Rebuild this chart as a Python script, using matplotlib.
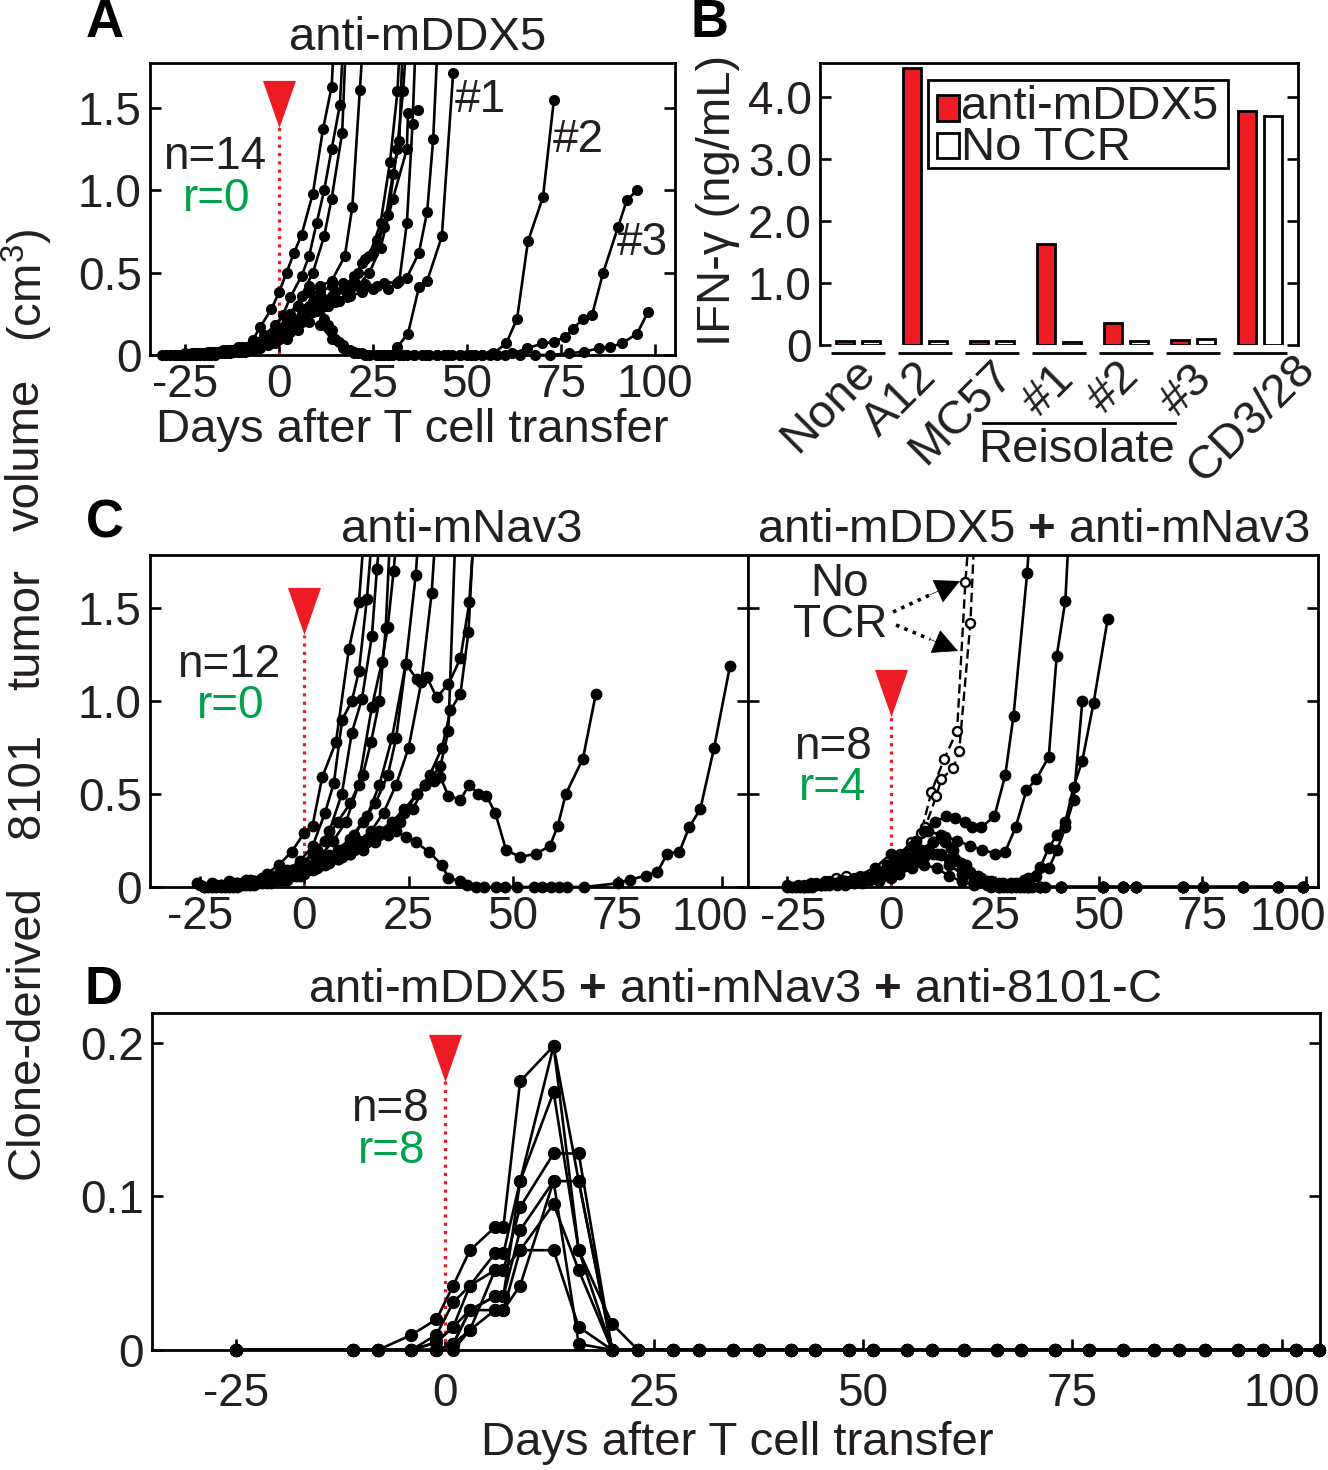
import numpy as np
import matplotlib
matplotlib.use('Agg')
import matplotlib.pyplot as plt
from matplotlib.lines import Line2D
from matplotlib.patches import Rectangle, FancyArrowPatch

# ---------------- DATA ----------------
# Panel A: anti-mDDX5, 14 mice (day, tumor volume cm3)
A_days = [
    [-31,-28,-25,-22,-19,-16,-13,-10,-7,-5,-2,0,2,4,6,9,11.7,14,15.5],
    [-30,-26,-22,-18,-14,-10,-7,-4,-1,1,3,6,8,10,12,14,16.2,18],
    [-29,-25,-21,-17,-13,-9,-6,-3,0,3,6,9,12,14,16.8,18.5],
    [-27,-23,-19,-15,-11,-7,-4,-1,2,5,8,11,14,17.5,19.5,21.5,23.5],
    [-26,-22,-18,-14,-10,-6,-3,0,3,6,9,12,15,18,21,24,27,29.5,31.5,33],
    [-25,-21,-17,-13,-9,-5,-2,1,4,7,10,13,16,19,22,25,28,30.3,32,33.5],
    [-24,-20,-16,-12,-8,-4,-1,2,5,8,11,14,17,20,23,26,29,31.4,33,35],
    [-23,-19,-15,-11,-7,-3,0,3,6,9,12,15,18,21,24,27,30.3,34,34.3,37],
    [-22,-18,-14,-10,-6,-2,1,4,7,10,13,16,19,22,25,28,31.4,34,37.2,39.4,41,43],
    [-21,-17,-13,-9,-5,-1,2,5,8,11,14,17,20,23,26,29,32,34,35.5,37],
    [-20,-16,-12,-8,-4,-1,2,5,8,11,14,17,20,23,26,29,31.5,34.3,37.2,39.4,43.3,46.3],
    [-19,-15,-11,-7,-3,0,3,6,9,12,15,18,21,24,27,30,33,36,39,42,45,48,51,54,57,60.4,63.3,66.2,70.2,73.1],
    [-18,-14,-10,-6,-2,1,4,7,10,13,16,19,22,26,30,34,38,42,46,50,54,58,62,66,70,73.1,76.1,78.2,80.9,83.2,86.2,90.2,92.5,95.2],
    [-17,-13,-9,-5,-1,2,5,8,11,14,17,20,24,28,32,36,40,44,48,52,56,60,64,68,72,77,81,85,88,91.2,95.2,98.1],
]
A_vol = [
    [0,0,0,0.01,0.01,0.02,0.03,0.05,0.09,0.17,0.28,0.38,0.5,0.62,0.73,0.98,1.37,1.63,2.3],
    [0,0,0.01,0.02,0.03,0.05,0.08,0.12,0.18,0.24,0.35,0.48,0.6,0.8,1.0,1.25,1.52,2.3],
    [0,0.01,0.01,0.02,0.03,0.05,0.07,0.1,0.16,0.25,0.36,0.5,0.72,0.95,1.35,2.3],
    [0,0.01,0.02,0.03,0.05,0.08,0.11,0.15,0.22,0.3,0.38,0.42,0.45,0.6,0.9,1.61,2.3],
    [0,0.01,0.01,0.02,0.04,0.06,0.09,0.13,0.18,0.24,0.3,0.34,0.38,0.41,0.5,0.6,0.8,1.17,1.6,2.3],
    [0,0.01,0.02,0.03,0.04,0.06,0.09,0.13,0.18,0.24,0.28,0.3,0.33,0.4,0.56,0.62,0.78,1.1,1.3,2.3],
    [0,0.01,0.02,0.03,0.05,0.07,0.1,0.14,0.2,0.27,0.33,0.36,0.4,0.48,0.58,0.7,0.85,1.25,1.6,2.3],
    [0,0.01,0.02,0.03,0.05,0.07,0.1,0.14,0.2,0.26,0.3,0.32,0.35,0.42,0.5,0.65,0.95,1.25,1.47,1.49],
    [0,0.01,0.02,0.03,0.05,0.08,0.12,0.16,0.22,0.27,0.3,0.33,0.36,0.38,0.4,0.44,0.44,0.47,0.62,0.87,1.31,2.3],
    [0,0.01,0.02,0.03,0.06,0.1,0.15,0.22,0.3,0.38,0.42,0.44,0.45,0.43,0.42,0.4,0.45,0.8,1.4,2.3],
    [0,0.01,0.02,0.04,0.07,0.12,0.2,0.3,0.42,0.3,0.15,0.06,0.02,0,0,0,0.05,0.13,0.41,0.45,0.72,1.71],
    [0,0.01,0.02,0.03,0.06,0.1,0.16,0.25,0.33,0.22,0.1,0.03,0.01,0,0,0,0,0,0,0,0,0,0,0,0.01,0.07,0.22,0.69,0.96,1.55],
    [0,0.01,0.02,0.04,0.07,0.12,0.2,0.28,0.3,0.18,0.08,0.03,0.01,0,0,0,0,0,0,0,0,0,0.01,0.04,0.07,0.08,0.11,0.16,0.22,0.24,0.5,0.78,0.94,1.0],
    [0,0.01,0.02,0.04,0.07,0.1,0.15,0.2,0.18,0.1,0.04,0.01,0,0,0,0,0,0,0,0,0,0,0,0,0,0.01,0.02,0.04,0.05,0.07,0.13,0.26],
]

# Panel B: IFN-gamma (ng/mL)
B_groups = ['None', 'A12', 'MC57', '#1', '#2', '#3', 'CD3/28']
B_ddx5 = [0.06, 4.47, 0.06, 1.63, 0.36, 0.08, 3.78]
B_notcr = [0.06, 0.06, 0.06, 0.055, 0.07, 0.09, 3.70]
B_yticks = [0, 1, 2, 3, 4]
B_yticklabels = ['0', '1.0', '2.0', '3.0', '4.0']

# Panel C left: anti-mNav3, 12 mice
C1_days = [
    [-25,-21,-17,-13,-9,-6,-3,0,2,4.3,7.6,10.7,13.1,15],
    [-23,-19,-15,-11,-7,-4,-1,2,5,7.1,9.1,11.4,13.1,15,17],
    [-22,-18,-14,-10,-6,-3,0,3,6,9,11.4,13.8,16.2,17.4,19],
    [-21,-17,-13,-9,-5,-2,1,4,7,10,13,16.2,18.6,20,21.4,23],
    [-20,-16,-12,-8,-4,-1,2,5,8,11,14,17,20,22,24.3,26.7,28],
    [-19,-15,-11,-7,-3,0,3,6,9,12,15,18,21,24.3,26.9,29.3,31.7,34.5,37.4,39.5,41.2],
    [-18,-14,-10,-6,-2,1,4,7,10,13,16,19,22,25,28,30.5,32],
    [-17,-13,-9,-5,-1,2,5,8,11,14,17,20,23,26,29,32.6,34.5,36.5],
    [-16,-12,-8,-4,0,3,6,9,12,15,18,21,24,27,30,33,35,37.4,39.3,41],
    [-24,-20,-16,-12,-8,-4,-1,2,5,8,11,14,16,18,19.5,21],
    [-25.7,-22,-18,-14,-10,-6,-3,0,3,6,9,12,15,18,21,24,27,29,31,32.6,34.5,37.4,39.5,41.7,43.6,45.7,48.3,51.7,55.5,58.8,60.7,62.6,66.7,69.8],
    [-24,-20,-16,-12,-8,-4,-1,2,5,8,11,14,17,20,22,24.3,26.7,29.8,32.9,34.5,37.4,39,41,43,46,48,51,55,57,59,61,63,67,75,77.9,81.7,84.5,86.9,89.8,92.1,94.8,98.1,101.9],
]
C1_vol = [
    [0.01,0.01,0.02,0.04,0.07,0.12,0.19,0.29,0.33,0.59,0.78,1.28,1.53,2.1],
    [0,0.01,0.02,0.03,0.06,0.09,0.14,0.22,0.4,0.56,0.9,1.0,1.16,1.55,2.1],
    [0,0.01,0.02,0.04,0.06,0.09,0.13,0.2,0.3,0.5,0.83,1.01,1.35,1.71,2.1],
    [0,0.01,0.02,0.03,0.05,0.08,0.12,0.17,0.25,0.35,0.55,0.97,1.21,1.4,1.7,2.1],
    [0,0.01,0.02,0.03,0.05,0.07,0.1,0.14,0.2,0.26,0.35,0.45,0.6,0.8,1.2,1.68,2.1],
    [0,0.01,0.02,0.04,0.06,0.09,0.13,0.16,0.2,0.28,0.38,0.55,0.8,1.2,1.12,1.13,1.02,1.09,1.23,1.53,2.1],
    [0,0.01,0.02,0.04,0.06,0.09,0.12,0.16,0.2,0.25,0.3,0.4,0.55,0.75,1.1,1.58,2.1],
    [0,0.01,0.02,0.04,0.06,0.09,0.12,0.15,0.18,0.22,0.26,0.3,0.35,0.42,0.55,0.65,0.84,2.1],
    [0,0.01,0.02,0.04,0.07,0.1,0.13,0.16,0.2,0.24,0.28,0.33,0.4,0.5,0.6,0.75,0.95,1.04,1.37,2.1],
    [0,0.01,0.02,0.03,0.05,0.08,0.12,0.18,0.25,0.35,0.45,0.6,0.78,1.0,1.39,2.1],
    [0.02,0.02,0.03,0.04,0.05,0.07,0.09,0.12,0.14,0.17,0.2,0.22,0.25,0.3,0.35,0.42,0.5,0.55,0.57,0.59,0.49,0.47,0.55,0.5,0.49,0.40,0.2,0.16,0.18,0.22,0.33,0.5,0.69,1.04],
    [0,0.01,0.02,0.03,0.05,0.07,0.09,0.11,0.13,0.15,0.18,0.2,0.24,0.28,0.3,0.27,0.24,0.19,0.12,0.05,0.03,0.01,0,0,0,0,0,0,0,0,0,0,0,0.02,0.04,0.06,0.08,0.18,0.19,0.32,0.42,0.75,1.19],
]

# Panel C right: anti-mDDX5 + anti-mNav3, 8 mice (solid) and 2 No-TCR controls (dashed)
C2_days = [
    [-24,-20,-16,-12,-8,-4,-1,2,5,8,10.6,13.3,15.5,17.9,19.6,21.7,24.9,27.5,29.5,32.8,34],
    [-21,-17,-13,-9,-5,-2,1,4,7,10,13,16,19,22,25.1,27.5,30,32.6,35,38,39.9,42,43.3],
    [-23,-19,-15,-11,-7,-3,0,3,6,9,12,15,18,21,24,27,30,33,36,38,40,42,44,46.1,48.8,52.2],
    [-20,-16,-12,-8,-4,-1,2,5,8,11,14,17,20,23,26,29,32,35,38,40,42,44,46.1],
    [-25,-20,-16,-12,-8,-4,0,3.4,7.2,10.1,13,14.5,16.9,19,21.7,23.4,26,29,32,36,41,51,56,59,70.3,75.1,84.8,93.2,99.3],
    [-22,-18,-14,-10,-6,-3,0,3,6,9,12,15,18,21,24,27,30,33,36,41,51,56,59,70.3,75.1,84.8,93.2,99.3],
    [-21,-17,-13,-9,-5,-2,1,4,7,10,12,14,17,20,23,26,29,33,36,41,51,56,59,70.3,75.1,84.8,93.2,99.3],
    [-19,-15,-11,-7,-3,0,2,5,8,11,14,17,20,24,28,31,34,37,41,51,56,59,70.3,75.1,84.8,93.2,99.3],
]
C2_vol = [
    [0,0.01,0.02,0.03,0.05,0.08,0.12,0.16,0.22,0.3,0.35,0.38,0.37,0.35,0.32,0.32,0.38,0.6,0.92,1.69,2.1],
    [0,0.01,0.02,0.03,0.05,0.08,0.12,0.16,0.2,0.24,0.27,0.25,0.22,0.2,0.18,0.19,0.32,0.52,0.58,0.70,1.24,1.54,2.1],
    [0,0.01,0.02,0.03,0.05,0.08,0.1,0.14,0.17,0.2,0.18,0.14,0.1,0.06,0.03,0.02,0.02,0.05,0.11,0.21,0.28,0.35,0.54,0.68,0.99,1.44],
    [0,0.01,0.02,0.03,0.05,0.07,0.1,0.13,0.16,0.18,0.15,0.1,0.06,0.03,0.02,0.02,0.04,0.06,0.1,0.2,0.32,0.47,1.0],
    [0,0.01,0.02,0.03,0.05,0.1,0.18,0.16,0.2,0.24,0.24,0.21,0.13,0.08,0.05,0.02,0,0,0,0,0,0,0,0,0,0,0,0,0],
    [0,0.01,0.02,0.03,0.05,0.08,0.12,0.18,0.25,0.3,0.28,0.2,0.12,0.05,0.02,0,0,0,0,0,0,0,0,0,0,0,0,0],
    [0,0.01,0.01,0.02,0.04,0.06,0.09,0.12,0.15,0.18,0.17,0.12,0.07,0.03,0.01,0,0,0,0,0,0,0,0,0,0,0,0,0],
    [0,0.01,0.01,0.02,0.03,0.05,0.07,0.1,0.12,0.1,0.06,0.03,0.01,0,0,0,0,0,0,0,0,0,0,0,0,0,0],
]
NT_days = [
    [-25,-22.5,-19.3,-15.9,-13.3,-10.9,-7.5,-5,-2.7,0,2.2,4.8,7.2,9.7,12.8,15.9,17.9,19.5],
    [-24,-21,-18,-15,-12,-9,-6,-3,0,2.5,5.3,8.2,10.9,12.1,15,16.4,19.1,20.5],
]
NT_vol = [
    [0.01,0.01,0.02,0.03,0.05,0.06,0.06,0.07,0.08,0.11,0.18,0.24,0.29,0.51,0.69,0.84,1.64,2.1],
    [0,0.01,0.02,0.03,0.04,0.05,0.06,0.07,0.09,0.12,0.13,0.32,0.49,0.58,0.64,0.73,1.42,2.1],
]

# Panel D: anti-mDDX5 + anti-mNav3 + anti-8101-C, 8 mice
D_early = [-25,-11,-8,-4,-1,1,3,6,7,9,13,16,20]
D_late = [23.1,27.3,30.4,34.5,37.5,41.4,44.3,48.3,51.2,55.2,58.2,62.1,66,68.9,72.9,77,81.1,84.8,87.8,90.8,94.8,97.8,101.7,104.5]
D_vol = [
    [0,0,0,0.0098,0.020,0.042,0.065,0.080,0.080,0.175,0.198,0.110,0],
    [0,0,0,0,0.010,0.031,0.042,0.063,0.063,0.110,0.168,0.065,0.017],
    [0,0,0,0,0.005,0.015,0.042,0.052,0.052,0.093,0.128,0.128,0],
    [0,0,0,0,0,0.004,0.026,0.035,0.035,0.078,0.110,0.110,0],
    [0,0,0,0,0,0.004,0.026,0.026,0.026,0.065,0.095,0.052,0],
    [0,0,0,0,0,0,0.013,0.052,0.052,0.065,0.065,0.015,0],
    [0,0,0,0,0,0.004,0.013,0.026,0.026,0.042,0.110,0.004,0],
    [0,0,0,0,0.005,0.015,0.026,0.035,0.035,0.110,0.198,0.065,0],
]

# ---------------- STYLE ----------------
plt.rcParams['font.family'] = ['Liberation Sans', 'DejaVu Sans']
plt.rcParams['axes.unicode_minus'] = False
plt.rcParams['mathtext.fontset'] = 'custom'
plt.rcParams['mathtext.rm'] = 'Liberation Sans'
plt.rcParams['mathtext.bf'] = 'Liberation Sans:bold'
plt.rcParams['mathtext.it'] = 'Liberation Sans:italic'
RED = '#ED1C24'
GREEN = '#00A14B'
TXT = '#231F20'
FS = 33
TFS = 33
SPW = 2.0
LW = 1.9

W, H = 1328, 1470
fig = plt.figure(figsize=(W / 100, H / 100), dpi=100)


def fx(px):
    return px / W


def fy(py):
    return 1 - py / H


def add_ax(l, t, r, b):
    return fig.add_axes([fx(l), fy(b), (r - l) / W, (b - t) / H])


def style(ax, left=True, right=True, bottom=True):
    for s in ax.spines.values():
        s.set_linewidth(SPW)
    ax.tick_params(direction='in', length=8, width=1.9, labelsize=TFS,
                   left=left, right=right, bottom=bottom, top=False,
                   colors='black', labelcolor=TXT, pad=6)


def draw_curves(ax, days, vols, ms, ytop, ls='-', mfc='black', mew=1.0):
    for d, v in zip(days, vols):
        d = np.asarray(d, float)
        v = np.asarray(v, float)
        ax.plot(d, v, ls, color='black', lw=LW, zorder=3)
        m = v <= ytop
        ax.plot(d[m], v[m], linestyle='none', marker='o', ms=ms, mfc=mfc,
                mec='black', mew=mew, clip_on=False, zorder=4)


TRI = [(-0.35, 0.5), (0.35, 0.5), (0.0, -0.5)]


def arrow_mark(ax, ycenter, ytip):
    ax.plot([0, 0], [0, ytip], linestyle=(0, (1, 1.6)), color=RED, lw=2.3, zorder=2)
    ax.plot([0], [ycenter], marker=TRI, ms=34, color=RED, mec=RED, mew=0,
            clip_on=False, zorder=5, linestyle='none')


def ftext(x, y, s, **kw):
    kw.setdefault('ha', 'center')
    kw.setdefault('va', 'center')
    kw.setdefault('fontsize', FS)
    kw.setdefault('color', TXT)
    fig.text(fx(x), fy(y), s, **kw)


# ---------------- PANEL A ----------------
axA = add_ax(150, 63, 675, 355)
A_ytop = 1.773
axA.set_xlim(-34.3, 105.3)
axA.set_ylim(0, A_ytop)
style(axA)
axA.set_xticks([-25, 0, 25, 50, 75, 100])
axA.set_yticks([0, 0.5, 1.0, 1.5])
axA.set_yticklabels(['0', '0.5', '1.0', '1.5'])
draw_curves(axA, A_days, A_vol, 7, A_ytop)
arrow_mark(axA, 1.526, 1.389)

# ---------------- PANEL B ----------------
axB = add_ax(820, 63, 1298, 345)
axB.set_xlim(-0.57, 6.57)
axB.set_ylim(0, 4.55)
style(axB, bottom=False)
axB.spines['bottom'].set_visible(False)
axB.set_xticks([])
axB.set_yticks(B_yticks)
axB.set_yticklabels(B_yticklabels)
xpos = np.arange(len(B_groups))
bw = 0.27
axB.bar(xpos - 0.19, B_ddx5, width=bw, color=RED, edgecolor='black', lw=2.0, zorder=3)
axB.bar(xpos + 0.19, B_notcr, width=bw, color='white', edgecolor='black', lw=2.0, zorder=3)
btr = axB.get_xaxis_transform()
for i in xpos:
    axB.plot([i - 0.4, i + 0.4], [-0.03, -0.03], color='black', lw=2.0,
             transform=btr, clip_on=False, solid_capstyle='butt')
# legend (manual)
axB.add_patch(Rectangle((0.226, 0.628), 0.628, 0.312, transform=axB.transAxes,
                        facecolor='white', edgecolor='black', lw=2.0, zorder=6))
axB.add_patch(Rectangle((0.245, 0.795), 0.046, 0.09, transform=axB.transAxes,
                        facecolor=RED, edgecolor='black', lw=2.0, zorder=7))
axB.add_patch(Rectangle((0.245, 0.662), 0.046, 0.09, transform=axB.transAxes,
                        facecolor='white', edgecolor='black', lw=2.0, zorder=7))
axB.text(0.296, 0.845, 'anti-mDDX5', transform=axB.transAxes, fontsize=FS + 1,
         color=TXT, ha='left', va='center', zorder=8)
axB.text(0.296, 0.70, 'No TCR', transform=axB.transAxes, fontsize=FS + 1,
         color=TXT, ha='left', va='center', zorder=8)
# rotated group labels
B_lab_px = [(869, 366), (930, 370), (1006, 368), (1067, 372), (1132, 369), (1206, 372), (1308, 362)]
for lab, (lx, ly) in zip(B_groups, B_lab_px):
    fig.text(fx(lx), fy(ly), lab, rotation=45, ha='right', va='center',
             rotation_mode='anchor', fontsize=FS + 1, color=TXT)
fig.add_artist(Line2D([fx(983), fx(1175)], [fy(423), fy(423)], color='black', lw=2.0))
ftext(1077, 450, 'Reisolate', fontsize=FS + 1)

# ---------------- PANEL C left ----------------
C_ytop = 1.785
axC1 = add_ax(150, 555, 748, 887)
axC1.set_xlim(-36.9, 106.2)
axC1.set_ylim(0, C_ytop)
style(axC1)
axC1.set_xticks([-25, 0, 25, 50, 75, 100])
axC1.set_xticklabels(['-25', '0', '25', '50', '75', ''])
axC1.set_yticks([0, 0.5, 1.0, 1.5])
axC1.set_yticklabels(['0', '0.5', '1.0', '1.5'])
draw_curves(axC1, C1_days, C1_vol, 7.5, C_ytop)
arrow_mark(axC1, 1.484, 1.355)
ftext(710, 918, '100', fontsize=TFS)

# ---------------- PANEL C right ----------------
axC2 = add_ax(748, 555, 1318, 887)
axC2.set_xlim(-34.5, 102.9)
axC2.set_ylim(0, C_ytop)
style(axC2)
axC2.set_xticks([-25, 0, 25, 50, 75, 100])
axC2.set_xticklabels(['', '0', '25', '50', '75', ''])
axC2.set_yticks([0, 0.5, 1.0, 1.5])
axC2.tick_params(labelleft=False)
for d, v in zip(NT_days, NT_vol):
    d = np.asarray(d, float)
    v = np.asarray(v, float)
    axC2.plot(d, v, linestyle=(0, (4, 2)), color='black', lw=1.7, zorder=3)
    m = v <= C_ytop
    axC2.plot(d[m], v[m], linestyle='none', marker='o', ms=6.5, mfc='white',
              mec='black', mew=1.7, clip_on=False, zorder=4)
draw_curves(axC2, C2_days, C2_vol, 7.5, C_ytop)
arrow_mark(axC2, 1.043, 0.914)
ftext(793, 918, '-25', fontsize=TFS)
ftext(1288, 918, '100', fontsize=TFS)

# No TCR arrows
for (x0, y0), (x1, y1) in [((893, 612), (960, 581)), ((896, 625), (958, 651))]:
    xm, ym = x0 + 0.55 * (x1 - x0), y0 + 0.55 * (y1 - y0)
    fig.add_artist(Line2D([fx(x0), fx(xm)], [fy(y0), fy(ym)],
                          linestyle=(0, (1, 1.5)), color='black', lw=2.6))
    fig.add_artist(FancyArrowPatch(
        (fx(xm), fy(ym)), (fx(x1), fy(y1)),
        transform=fig.transFigure, arrowstyle='-|>', mutation_scale=42,
        color='black', lw=0.5, shrinkA=0, shrinkB=0))

# ---------------- PANEL D ----------------
D_ytop = 0.2195
axD = add_ax(152, 1013, 1320, 1350)
axD.set_xlim(-35, 104.6)
axD.set_ylim(0, D_ytop)
style(axD)
axD.tick_params(axis='x', pad=16)
axD.set_xticks([-25, 0, 25, 50, 75, 100])
axD.set_yticks([0, 0.1, 0.2])
axD.set_yticklabels(['0', '0.1', '0.2'])
D_days = [D_early + D_late for _ in D_vol]
D_vals = [list(v) + [0] * len(D_late) for v in D_vol]
draw_curves(axD, D_days, D_vals, 8.5, D_ytop)
arrow_mark(axD, 0.190, 0.175)

# ---------------- TEXT ----------------
ftext(105, 23, 'A', fontsize=38, fontweight='bold', color='black')
ftext(710, 23, 'B', fontsize=38, fontweight='bold', color='black')
ftext(105, 523, 'C', fontsize=38, fontweight='bold', color='black')
ftext(103, 990, 'D', fontsize=38, fontweight='bold', color='black')

ftext(418, 38, 'anti-mDDX5', fontsize=FS + 1)
ftext(412, 430, 'Days after T cell transfer', fontsize=FS + 1)
ftext(737, 1443, 'Days after T cell transfer', fontsize=FS + 1)
ftext(462, 530, 'anti-mNav3', fontsize=FS + 1)
ftext(1033, 530, r'anti-mDDX5 $\mathbf{+}$ anti-mNav3', fontsize=FS + 1)
ftext(735, 990, r'anti-mDDX5 $\mathbf{+}$ anti-mNav3 $\mathbf{+}$ anti-8101-C', fontsize=FS + 1)
ftext(718, 200, 'IFN-γ (ng/mL)', rotation=90, fontsize=FS + 1)

ftext(215, 157, 'n=14')
ftext(217, 199, 'r=0', color=GREEN)
ftext(229, 665, 'n=12')
ftext(231, 706, 'r=0', color=GREEN)
ftext(833, 747, 'n=8')
ftext(833, 788, 'r=4', color=GREEN)
ftext(390, 1109, 'n=8')
ftext(392, 1151, 'r=8', color=GREEN)

ftext(480, 100, '#1')
ftext(578, 140, '#2')
ftext(642, 243, '#3')
ftext(840, 584, 'No')
ftext(840, 625, 'TCR')

for word, yc in [('(cm$^3$)', 285), ('volume', 455), ('tumor', 630),
                 ('8101', 785), ('Clone-derived', 1032)]:
    ftext(27, yc, word, rotation=90, fontsize=FS + 1)

fig.savefig('out.png', dpi=100)
